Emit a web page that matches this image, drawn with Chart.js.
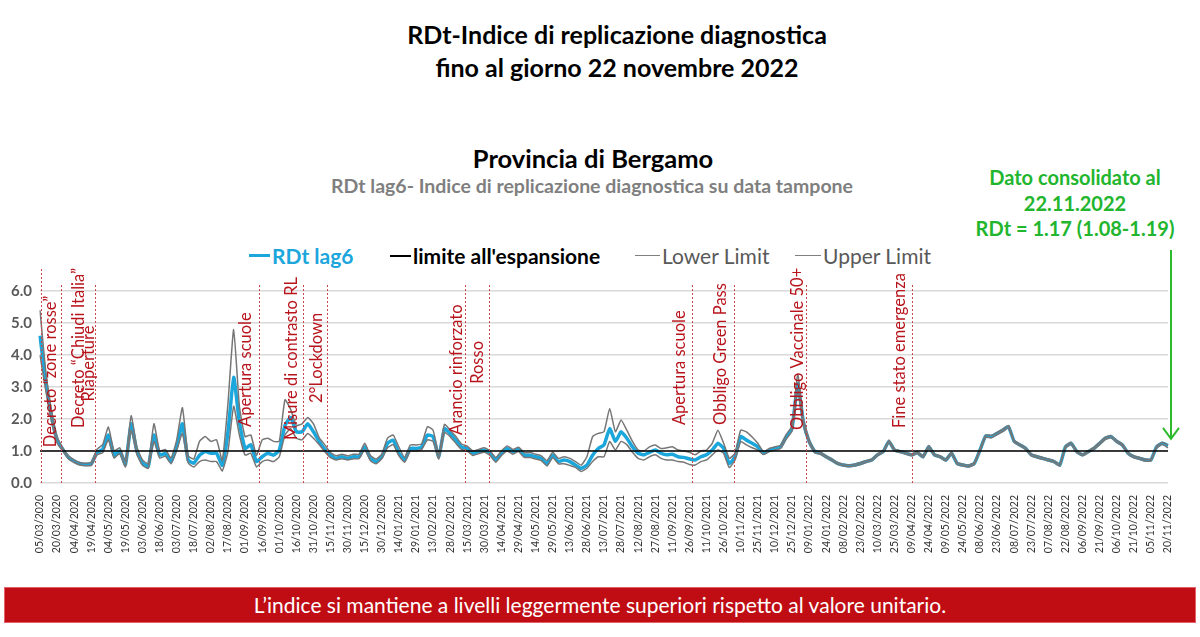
<!DOCTYPE html>
<html>
<head>
<meta charset="utf-8">
<script src="https://cdn.jsdelivr.net/npm/chart.js@4.4.0/dist/chart.umd.min.js"></script>
<style>
  body { margin: 0; width: 1200px; height: 637px; position: relative; overflow: hidden; background: #fff; font-family: Lato, "Open Sans", sans-serif; }
  .abs { position: absolute; text-align: center; white-space: nowrap; }
  .titolo { left: 117px; width: 1000px; font-size: 25px; font-weight: bold; color: #000; }
  .prov { left: 93px; width: 1000px; top: 143px; font-size: 25.5px; font-weight: bold; color: #000; }
  .sotto { left: 92px; width: 1000px; top: 174px; font-size: 19.5px; font-weight: bold; color: #7f7f7f; }
  .verde { left: 955px; width: 240px; top: 165px; font-size: 20px; font-weight: bold; color: #22b52e; line-height: 25.5px; }
  .voce { position: absolute; top: 243px; font-size: 21px; display: flex; align-items: center; white-space: nowrap; }
  .seg { display: inline-block; width: 21px; margin-right: 2px; }
  .banda { position: absolute; left: 4px; top: 587px; width: 1190px; height: 34px; background: #c00d14; border: 1px solid #e4636a; color: #fff; font-size: 21px; text-align: center; line-height: 34px; }
  #box { position: absolute; left: 0; top: 240px; width: 1200px; height: 340px; }
</style>
</head>
<body>

<div class="abs titolo" style="top:19px">RDt-Indice di replicazione diagnostica</div>
<div class="abs titolo" style="top:52px">fino al giorno 22 novembre 2022</div>
<div class="abs prov">Provincia di Bergamo</div>
<div class="abs sotto">RDt lag6- Indice di replicazione diagnostica su data tampone</div>
<div class="abs verde">Dato consolidato al<br>22.11.2022<br>RDt = 1.17 (1.08-1.19)</div>

<span class="voce" style="left:249px;color:#1ba6dc;font-weight:bold"><span class="seg" style="border-top:3px solid #1ba6dc"></span>RDt lag6</span>
<span class="voce" style="left:390px;color:#000;font-weight:bold"><span class="seg" style="border-top:2px solid #000"></span>limite all'espansione</span>
<span class="voce" style="left:635px;color:#595959"><span class="seg" style="width:25px;border-top:1px solid #7f7f7f"></span>Lower Limit</span>
<span class="voce" style="left:795px;color:#595959"><span class="seg" style="width:26px;border-top:1px solid #7f7f7f"></span>Upper Limit</span>

<div id="box"><canvas id="grafico"></canvas></div>

<div class="banda">L’indice si mantiene a livelli leggermente superiori rispetto al valore unitario.</div>

<script>
// dati, un punto ogni 5 giorni dal 05/03/2020
const inizioSerie = '2020-03-05'
const passoGiorni = 5

const rdtLag6 = [4.6, 3.2, 2.1, 1.35, 1.05, 0.8, 0.68, 0.6, 0.58, 0.6,
  0.95, 1.05, 1.5, 0.87, 1.0, 0.58, 1.85, 1.0, 0.62, 0.52,
  1.5, 0.87, 0.92, 0.67, 1.15, 1.85, 0.72, 0.62, 0.87, 0.98,
  0.93, 0.93, 0.55, 1.6, 3.3, 1.9, 1.08, 1.2, 0.67, 0.82,
  0.93, 0.87, 1.03, 1.8, 2.05, 1.6, 1.6, 1.85, 1.6, 1.3,
  1.05, 0.87, 0.77, 0.82, 0.77, 0.82, 0.82, 1.13, 0.77, 0.67,
  0.82, 1.24, 1.34, 0.93, 0.72, 1.08, 1.08, 1.13, 1.5, 1.45,
  0.82, 1.7, 1.55, 1.34, 1.13, 1.08, 0.93, 0.98, 1.03, 0.93,
  0.72, 0.93, 1.08, 0.98, 1.05, 0.87, 0.87, 0.82, 0.77, 0.6,
  0.87, 0.67, 0.72, 0.67, 0.56, 0.46, 0.56, 0.87, 1.08, 1.19,
  1.7, 1.3, 1.6, 1.4, 1.13, 0.93, 0.88, 0.96, 1.03, 0.93,
  0.88, 0.9, 0.82, 0.8, 0.75, 0.72, 0.82, 0.88, 1.03, 1.24,
  1.08, 0.61, 0.82, 1.45, 1.34, 1.24, 1.13, 0.93, 1.03, 1.08,
  1.13, 1.45, 1.7, 3.1, 1.9, 1.3, 0.98, 0.93, 0.82, 0.72,
  0.61, 0.56, 0.54, 0.56, 0.61, 0.67, 0.72, 0.88, 0.98, 1.3,
  1.03, 0.98, 0.93, 0.88, 0.95, 0.82, 1.13, 0.88, 0.82, 0.72,
  0.93, 0.61, 0.56, 0.53, 0.61, 1.03, 1.47, 1.45, 1.55, 1.65,
  1.76, 1.3, 1.19, 1.08, 0.88, 0.82, 0.77, 0.72, 0.67, 0.56,
  1.13, 1.24, 0.98, 0.88, 0.98, 1.08, 1.24, 1.4, 1.45, 1.3,
  1.19, 0.93, 0.82, 0.77, 0.72, 0.72, 1.13, 1.24, 1.17]

const upperLimit = [5.4, 3.5, 2.3, 1.45, 1.1, 0.85, 0.72, 0.64, 0.62, 0.65,
  1.05, 1.2, 1.75, 1.0, 1.1, 0.68, 2.1, 1.12, 0.72, 0.6,
  1.85, 1.0, 1.05, 0.78, 1.35, 2.35, 0.85, 0.75, 1.3, 1.45,
  1.3, 1.35, 0.7, 2.5, 4.8, 2.4, 1.45, 1.5, 0.87, 1.35,
  1.4, 1.3, 1.3, 2.6, 2.3, 1.8, 1.85, 2.05, 1.85, 1.42,
  1.19, 0.95, 0.85, 0.9, 0.85, 0.9, 0.9, 1.24, 0.86, 0.75,
  0.9, 1.4, 1.5, 1.12, 0.8, 1.19, 1.19, 1.22, 1.76, 1.65,
  0.9, 1.83, 1.65, 1.45, 1.22, 1.15, 1.0, 1.05, 1.1, 1.0,
  0.8, 1.0, 1.16, 1.05, 1.12, 0.95, 0.95, 0.9, 0.85, 0.7,
  0.96, 0.77, 0.82, 0.77, 0.67, 0.56, 0.82, 1.45, 1.55, 1.6,
  2.33, 1.6, 1.97, 1.65, 1.3, 1.03, 1.0, 1.13, 1.19, 1.08,
  1.1, 1.13, 1.03, 1.0, 0.96, 0.88, 1.0, 1.03, 1.24, 1.65,
  1.24, 0.77, 0.93, 1.65, 1.6, 1.44, 1.24, 0.98, 1.08, 1.13,
  1.18, 1.52, 1.78, 3.4, 2.0, 1.36, 1.02, 0.96, 0.85, 0.75,
  0.64, 0.59, 0.57, 0.59, 0.64, 0.7, 0.75, 0.91, 1.01, 1.34,
  1.06, 1.01, 0.96, 0.91, 0.98, 0.85, 1.17, 0.91, 0.85, 0.75,
  0.96, 0.64, 0.59, 0.56, 0.64, 1.07, 1.5, 1.49, 1.58, 1.68,
  1.8, 1.33, 1.22, 1.11, 0.91, 0.85, 0.8, 0.75, 0.7, 0.59,
  1.16, 1.27, 1.01, 0.91, 1.01, 1.11, 1.27, 1.43, 1.48, 1.33,
  1.22, 0.96, 0.85, 0.8, 0.75, 0.75, 1.16, 1.27, 1.19]

const lowerLimit = [4.0, 2.9, 1.95, 1.25, 1.0, 0.75, 0.64, 0.56, 0.54, 0.55,
  0.88, 0.95, 1.35, 0.78, 0.92, 0.5, 1.65, 0.9, 0.55, 0.46,
  1.3, 0.78, 0.84, 0.6, 1.02, 1.55, 0.63, 0.5, 0.67, 0.72,
  0.67, 0.67, 0.38, 1.0, 2.4, 1.5, 0.87, 0.93, 0.5, 0.67,
  0.72, 0.67, 0.82, 1.5, 1.7, 1.4, 1.35, 1.55, 1.4, 1.2,
  0.98, 0.79, 0.72, 0.76, 0.72, 0.76, 0.76, 1.05, 0.7, 0.6,
  0.76, 1.1, 1.2, 0.85, 0.65, 1.0, 1.0, 1.05, 1.35, 1.3,
  0.75, 1.58, 1.45, 1.24, 1.05, 1.0, 0.86, 0.92, 0.96, 0.86,
  0.65, 0.86, 1.0, 0.9, 0.98, 0.8, 0.8, 0.75, 0.7, 0.53,
  0.8, 0.6, 0.6, 0.55, 0.49, 0.36, 0.46, 0.67, 0.82, 0.82,
  1.3, 1.03, 1.3, 1.2, 0.96, 0.77, 0.72, 0.82, 0.88, 0.77,
  0.72, 0.72, 0.67, 0.65, 0.58, 0.56, 0.67, 0.72, 0.88, 1.03,
  0.93, 0.48, 0.72, 1.3, 1.19, 1.1, 1.03, 0.89, 0.98, 1.03,
  1.08, 1.38, 1.62, 2.9, 1.8, 1.25, 0.94, 0.9, 0.79, 0.69,
  0.58, 0.53, 0.51, 0.53, 0.58, 0.64, 0.69, 0.85, 0.95, 1.26,
  1.0, 0.95, 0.9, 0.85, 0.92, 0.79, 1.09, 0.85, 0.79, 0.69,
  0.9, 0.58, 0.53, 0.5, 0.58, 0.99, 1.43, 1.41, 1.51, 1.61,
  1.72, 1.27, 1.16, 1.05, 0.85, 0.79, 0.74, 0.69, 0.64, 0.53,
  1.09, 1.2, 0.95, 0.85, 0.95, 1.05, 1.2, 1.36, 1.41, 1.27,
  1.16, 0.9, 0.79, 0.74, 0.69, 0.69, 1.09, 1.2, 1.1]

const limiteEspansione = 1.0

// eventi segnati con le linee tratteggiate rosse
const dateEventi = ['2020-03-06', '2020-03-23', '2020-04-22', '2020-09-13', '2020-10-22', '2020-11-12',
  '2021-03-13', '2021-04-03', '2021-09-28', '2021-11-04', '2022-01-06', '2022-04-09']
const testiEventi = ['Decreto \u201Czone rosse\u201D', 'Decreto \u201CChiudi Italia\u201D', 'Riaperture', 'Apertura scuole',
  'Misure di contrasto RL', '2°Lockdown', 'Arancio rinforzato', 'Rosso', 'Apertura scuole',
  'Obbligo Green Pass', 'Obbligo Vaccinale 50+', 'Fine stato emergenza']

// posizione delle scritte: spostamento orizzontale (px) e base della scritta (valore asse y)
const spostEventi = [9, 17, -7, -14, -12, -11, -9, -12, -13, -14, -9, -13]
const baseEventi = [1.12, 1.72, 2.55, 1.75, 1.34, 2.5, 1.5, 3.1, 1.81, 1.81, 1.66, 1.72]

function etichetteDate(inizio, passo, n) {
  const arr = []
  const t0 = Date.parse(inizio + 'T00:00:00Z')
  for (let i = 0; i < n; i++) {
    const d = new Date(t0 + i * passo * 86400000)
    arr.push(String(d.getUTCDate()).padStart(2, '0') + '/' +
      String(d.getUTCMonth() + 1).padStart(2, '0') + '/' + d.getUTCFullYear())
  }
  return arr
}

function giorniDa(data) {
  return (Date.parse(data + 'T00:00:00Z') - Date.parse(inizioSerie + 'T00:00:00Z')) / 86400000
}

const etichette = etichetteDate(inizioSerie, passoGiorni, rdtLag6.length)

const pluginEventi = {
  id: 'eventi',
  afterDatasetsDraw(chart) {
    const { ctx, chartArea, scales } = chart
    const sx = scales.x, sy = scales.y
    ctx.save()
    dateEventi.forEach((d, k) => {
      const px = Math.round(sx.getPixelForValue(giorniDa(d) / passoGiorni)) + 0.5
      ctx.strokeStyle = '#c8484e'
      ctx.lineWidth = 1
      ctx.setLineDash([2, 2])
      ctx.beginPath()
      ctx.moveTo(px, k === 0 ? chartArea.top - 22 : chartArea.top - 6)
      ctx.lineTo(px, chartArea.bottom)
      ctx.stroke()

      ctx.save()
      ctx.translate(px + spostEventi[k], sy.getPixelForValue(baseEventi[k]))
      ctx.rotate(-Math.PI / 2)
      ctx.font = '16.5px Lato'
      ctx.fillStyle = '#b8141c'
      ctx.textAlign = 'left'
      ctx.textBaseline = 'middle'
      ctx.fillText(testiEventi[k], 0, 0)
      ctx.restore()
    })

    // freccia verde sull'ultimo dato
    const xa = sx.getPixelForValue(rdtLag6.length - 1) + 3
    const yb = sy.getPixelForValue(upperLimit[upperLimit.length - 1]) - 6
    ctx.setLineDash([])
    ctx.strokeStyle = '#2dbb2d'
    ctx.lineWidth = 2
    ctx.beginPath()
    ctx.moveTo(xa, 10)
    ctx.lineTo(xa, yb)
    ctx.moveTo(xa - 8, yb - 11)
    ctx.lineTo(xa, yb)
    ctx.lineTo(xa + 8, yb - 11)
    ctx.stroke()
    ctx.restore()
  }
}

Chart.defaults.font.family = 'Lato'

new Chart(document.getElementById('grafico'), {
  type: 'line',
  data: {
    labels: etichette,
    datasets: [{
      label: 'limite all\'espansione',
      data: [{ x: etichette[0], y: limiteEspansione }, { x: etichette[etichette.length - 1], y: limiteEspansione }],
      borderColor: '#000',
      borderWidth: 1.5,
      pointRadius: 0,
      order: 0
    }, {
      label: 'Lower Limit',
      data: lowerLimit,
      borderColor: '#767676',
      borderWidth: 1.5,
      pointRadius: 0,
      tension: 0.15,
      order: 1
    }, {
      label: 'Upper Limit',
      data: upperLimit,
      borderColor: '#767676',
      borderWidth: 1.5,
      pointRadius: 0,
      tension: 0.15,
      order: 1
    }, {
      label: 'RDt lag6',
      data: rdtLag6,
      borderColor: '#1ba6dc',
      borderWidth: 3.5,
      pointRadius: 0,
      tension: 0.15,
      order: 2
    }]
  },
  options: {
    responsive: true,
    maintainAspectRatio: false,
    animation: false,
    layout: { padding: { top: 51, right: 32, left: 0, bottom: 0 } },
    plugins: { legend: { display: false }, tooltip: { enabled: false } },
    scales: {
      x: {
        grid: { display: false },
        border: { display: false },
        afterFit(scale) { scale.height = 97 },
        ticks: {
          autoSkip: false,
          minRotation: 90,
          maxRotation: 90,
          padding: 4,
          color: '#333',
          font: { size: 10.5 },
          callback: function (val, idx) { return idx % 3 === 0 ? this.getLabelForValue(val) : '' }
        }
      },
      y: {
        min: 0,
        max: 6,
        border: { display: false },
        grid: { color: '#d9d9d9', lineWidth: 1.5, drawTicks: false },
        afterFit(scale) { scale.width = 40 },
        ticks: {
          stepSize: 0.5,
          padding: 8,
          color: '#595959',
          font: { size: 15, weight: 'bold' },
          callback: v => v.toFixed(1)
        }
      }
    }
  },
  plugins: [pluginEventi]
})
</script>
</body>
</html>
